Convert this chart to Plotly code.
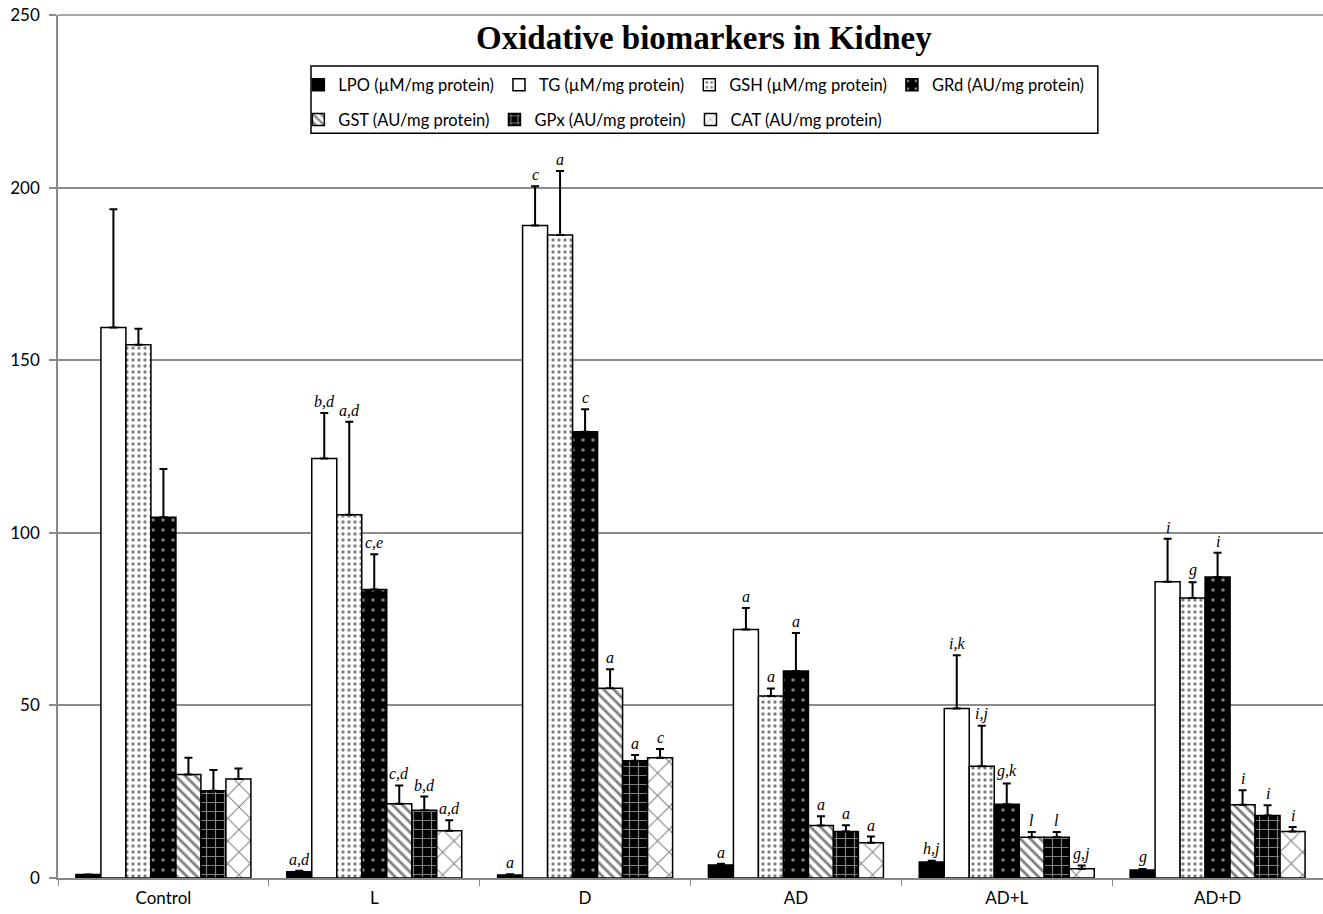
import plotly.graph_objects as go

groups = ["Control", "L", "D", "AD", "AD+L", "AD+D"]
series = ["LPO (µM/mg protein)", "TG (µM/mg protein)", "GSH (µM/mg protein)",
          "GRd (AU/mg protein)", "GST (AU/mg protein)", "GPx (AU/mg protein)",
          "CAT (AU/mg protein)"]

LPO = [1.0, 1.8, 0.9, 3.8, 4.6, 2.3]
TG = [159.5, 121.5, 189.0, 72.0, 49.1, 85.8]
GSH = [154.5, 105.2, 186.3, 52.7, 32.4, 81.1]
GRd = [104.5, 83.6, 129.3, 60.0, 21.4, 87.2]
GST = [30.0, 21.5, 55.0, 15.2, 11.8, 21.2]
GPx = [25.3, 19.6, 34.0, 13.5, 11.8, 18.1]
CAT = [28.7, 13.7, 34.8, 10.2, 2.7, 13.5]

LPO_err = [0.0, 0.3, 0.2, 0.3, 0.4, 0.3]
TG_err = [34.2, 13.2, 11.4, 6.2, 15.4, 12.5]
GSH_err = [4.6, 27.0, 18.5, 2.2, 11.7, 4.6]
GRd_err = [14.0, 10.2, 6.5, 11.0, 6.0, 7.0]
GST_err = [4.8, 5.3, 5.5, 2.7, 1.5, 4.2]
GPx_err = [6.0, 4.0, 1.6, 1.8, 1.5, 3.0]
CAT_err = [3.0, 3.0, 2.6, 1.8, 0.9, 1.3]

labels = [
    ["", "a,d", "a", "a", "h,j", "g"],
    ["", "b,d", "c", "a", "i,k", "i"],
    ["", "a,d", "a", "a", "i,j", "g"],
    ["", "c,e", "c", "a", "g,k", "i"],
    ["", "c,d", "a", "a", "l", "i"],
    ["", "b,d", "a", "a", "l", "i"],
    ["", "a,d", "c", "a", "g,j", "i"],
]

values = [LPO, TG, GSH, GRd, GST, GPx, CAT]
errors = [LPO_err, TG_err, GSH_err, GRd_err, GST_err, GPx_err, CAT_err]

patterns = [
    dict(shape="", fgcolor="black", bgcolor="black"),
    dict(shape="", fgcolor="white", bgcolor="white"),
    dict(shape=".", fgcolor="black", bgcolor="white", size=6, solidity=0.25),
    dict(shape=".", fgcolor="white", bgcolor="black", size=10, solidity=0.1),
    dict(shape="\\", fgcolor="black", bgcolor="white", size=7, solidity=0.4),
    dict(shape="+", fgcolor="white", bgcolor="black", size=9, solidity=0.25),
    dict(shape="x", fgcolor="black", bgcolor="white", size=16, solidity=0.12),
]
colors = ["black", "white", "white", "black", "white", "black", "white"]

fig = go.Figure()
for i, (name, vals, errs) in enumerate(zip(series, values, errors)):
    fig.add_trace(go.Bar(
        name=name, x=groups, y=vals,
        marker=dict(color=colors[i], pattern=patterns[i],
                    line=dict(color="black", width=1.5)),
        error_y=dict(type="data", symmetric=False, array=errs,
                     arrayminus=[0] * len(errs), color="black",
                     thickness=2, width=4),
        legend="legend" if i < 4 else "legend2",
    ))

bargap = 0.17
n = len(series)
w = (1 - bargap) / n
annotations = []
for i in range(n):
    for g in range(len(groups)):
        t = labels[i][g]
        if not t:
            continue
        xpos = g - (1 - bargap) / 2 + (i + 0.5) * w
        annotations.append(dict(
            x=xpos, y=values[i][g] + errors[i][g], xref="x", yref="y",
            text="<i>" + t + "</i>", showarrow=False, yanchor="bottom",
            yshift=1, font=dict(family="Liberation Serif", size=16, color="black"),
        ))

legend_font = dict(family="Lato", size=16.5, color="black")
fig.update_layout(
    width=1323, height=914,
    margin=dict(l=58, r=0, t=15, b=36),
    paper_bgcolor="white", plot_bgcolor="white",
    barmode="group", bargap=bargap, bargroupgap=0,
    title=dict(text="<b>Oxidative biomarkers in Kidney</b>", x=0.532, xanchor="center",
               y=0.9585, yanchor="middle", yref="container",
               font=dict(family="Liberation Serif", size=33, color="black")),
    legend=dict(orientation="h", x=0.19, y=0.939, xanchor="left", yanchor="top",
                font=legend_font, bgcolor="rgba(0,0,0,0)", itemwidth=30),
    legend2=dict(orientation="h", x=0.19, y=0.899, xanchor="left", yanchor="top",
                 font=legend_font, bgcolor="rgba(0,0,0,0)", itemwidth=30),
    shapes=[
        dict(type="rect", xref="paper", yref="paper", x0=0.2, x1=0.822,
             y0=0.863, y1=0.941, line=dict(color="black", width=1.5)),
        dict(type="line", xref="paper", yref="paper", x0=0, x1=1, y0=1, y1=1,
             line=dict(color="#8c8c8c", width=1.5), layer="below"),
    ],
    annotations=annotations,
    xaxis=dict(showline=True, linecolor="#888888", linewidth=1.5, ticks="outside",
               tickson="boundaries", ticklen=6, tickcolor="#888888",
               automargin=False, ticklabelstandoff=4,
               tickfont=dict(family="Lato", size=17, color="black")),
    yaxis=dict(range=[0, 250], dtick=50, showline=True, linecolor="#888888",
               linewidth=1.5, showgrid=True, gridcolor="#8c8c8c", gridwidth=1.5,
               zeroline=False, ticks="outside", ticklen=7, tickcolor="#8c8c8c",
               tickwidth=1.5, automargin=False, ticklabelstandoff=6,
               ticklabeloverflow="allow",
               tickfont=dict(family="Lato", size=17, color="black")),
    showlegend=True,
)

fig.write_html("out.html", config={"displayModeBar": False},
               post_script="document.body.style.margin='0';")
